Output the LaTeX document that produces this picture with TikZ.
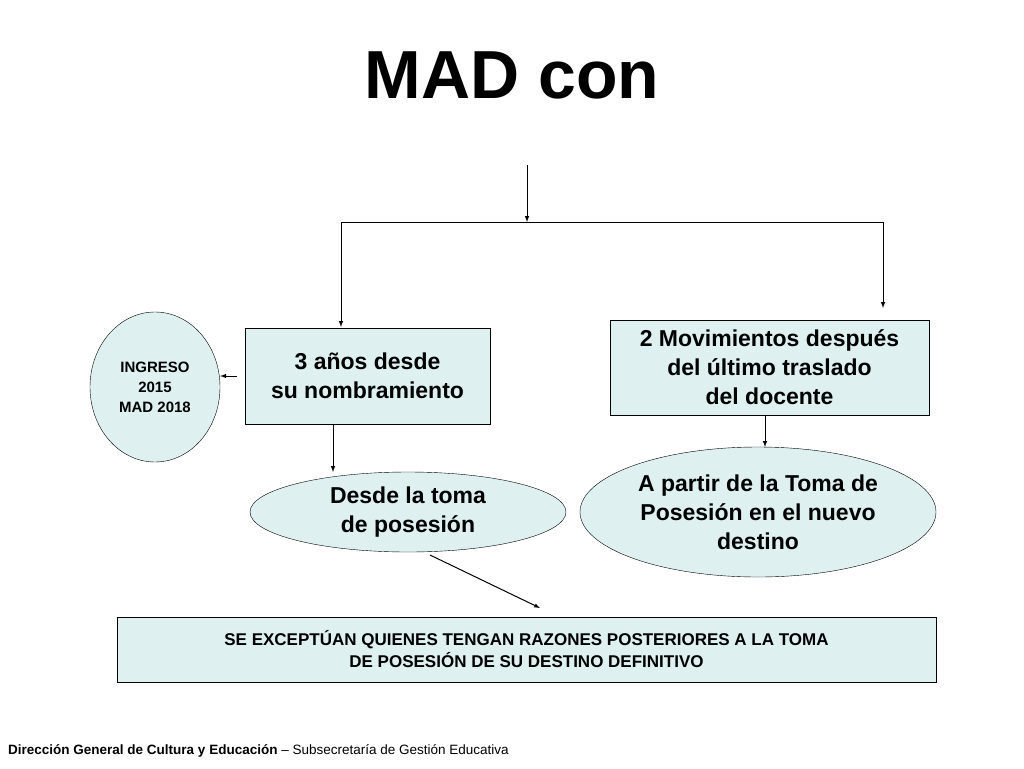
\documentclass[tikz,border=0pt]{standalone}
\usepackage{fontspec}
\setmainfont{Liberation Sans}
\usetikzlibrary{shapes.geometric}
\definecolor{boxfill}{RGB}{222,240,240}
\tikzset{
  arr/.style={-latex, line width=1pt},
  box/.style={draw, fill=boxfill, inner sep=0pt, align=center, font=\bfseries\fontsize{23}{29}\selectfont},
  oval/.style={ellipse, draw, fill=boxfill, inner sep=0pt, align=center, font=\bfseries\fontsize{23}{29}\selectfont},
}
\begin{document}
\begin{tikzpicture}[x=1pt, y=-1pt]
\useasboundingbox (0,0) rectangle (1024,768);
\node[font=\bfseries\fontsize{68}{70}\selectfont] (title) at (512,75) {MAD con};
%% nodes
\node[box, minimum width=245pt, minimum height=96pt] (anios) at (367.5,376) {3 años desde\\su nombramiento};
\node[box, minimum width=319pt, minimum height=95pt] (movs) at (769.5,367.5) {2 Movimientos después\\del último traslado\\del docente};
\node[oval, minimum width=130pt, minimum height=150pt, font=\bfseries\fontsize{15}{20}\selectfont] (ingreso) at (155,387) {INGRESO\\2015\\MAD 2018};
\node[oval, minimum width=316pt, minimum height=80pt] (toma) at (408,512) {Desde la toma\\de posesión};
\node[oval, minimum width=356pt, minimum height=130pt] (nuevo) at (758,512) {A partir de la Toma de\\Posesión en el nuevo\\destino};
\node[box, minimum width=819pt, minimum height=65pt, font=\bfseries\fontsize{17}{22}\selectfont] (excep) at (526.5,649.5) {SE EXCEPTÚAN QUIENES TENGAN RAZONES POSTERIORES A LA TOMA\\DE POSESIÓN DE SU DESTINO DEFINITIVO};
%% connectors
\coordinate (top) at (527,165);
\coordinate (split) at (527,222);
\draw[arr] (top) -- (split);
\draw[line width=1pt] (341,222) -- (883,222);
\draw[arr] (341,222) -- (341,327);
\draw[arr] (883,222) -- (883,308);
\draw[arr] (anios.west) ++(-8,0) -- (ingreso.east |- anios.west);
\draw[arr] (anios.south -| 333,0) -- (333,472);
\draw[arr] (movs.south -| 765,0) -- (765,447);
\draw[arr] (430,555) -- (540,608);
%% footer
\node[anchor=base west, inner sep=0pt, font=\fontsize{13.5}{16}\selectfont] (foot) at (8,754) {\textbf{Dirección General de Cultura y Educación} – Subsecretaría de Gestión Educativa};
\end{tikzpicture}
\end{document}
